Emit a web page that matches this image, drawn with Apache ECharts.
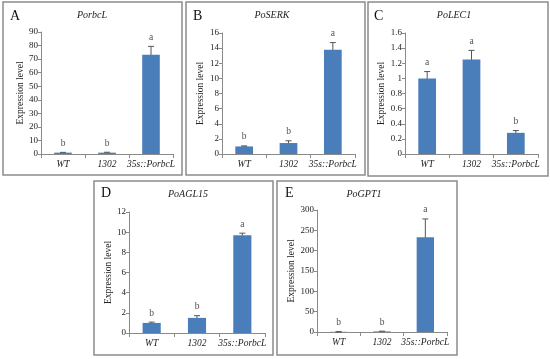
<!DOCTYPE html>
<html><head><meta charset="utf-8">
<script src="https://cdn.jsdelivr.net/npm/echarts@6/dist/echarts.min.js"></script>
<style>html,body{margin:0;padding:0;background:#fff}#c{width:550px;height:359px}</style>
</head><body><div id="c"></div>
<script>
const categories = ['WT', '1302', '35s::PorbcL'];

const genes = ['PorbcL', 'PoSERK', 'PoLEC1', 'PoAGL15', 'PoGPT1'];
const panelLetters = ['A', 'B', 'C', 'D', 'E'];

const meansA = [1.0, 1.0, 73.2];
const errA = [0.2, 0.3, 6.2];
const lettersA = ['b', 'b', 'a'];

const meansB = [1.0, 1.45, 13.8];
const errB = [0.07, 0.3, 0.93];
const lettersB = ['b', 'b', 'a'];

const meansC = [1.0, 1.25, 0.28];
const errC = [0.09, 0.12, 0.03];
const lettersC = ['a', 'a', 'b'];

const meansD = [1.0, 1.5, 9.7];
const errD = [0.08, 0.22, 0.2];
const lettersD = ['b', 'b', 'a'];

const meansE = [0.5, 1.5, 233];
const errE = [0.3, 0.5, 45];
const lettersE = ['b', 'b', 'a'];

const yMax = [90, 16, 1.6, 12, 300];
const yInterval = [10, 2, 0.2, 2, 50];

const means = [meansA, meansB, meansC, meansD, meansE];
const errs = [errA, errB, errC, errD, errE];
const letters = [lettersA, lettersB, lettersC, lettersD, lettersE];

// layout (pixels)
const grids = [
  {left: 41, top: 32, width: 132, height: 122},
  {left: 222, top: 33, width: 133, height: 121},
  {left: 405, top: 33, width: 133, height: 121},
  {left: 129, top: 212, width: 136, height: 121},
  {left: 317, top: 210, width: 130, height: 122}
];
const boxes = [
  [3, 2, 179, 173], [186, 2, 179, 173], [368, 2, 180, 174],
  [94, 181, 179, 174], [277, 181, 180, 174]
];
const titlePos = [[92, 15], [272, 15], [454, 15], [188, 194], [364, 194]];
const letterPos = [[10, 16], [193, 16], [374, 16], [101, 193], [285, 193]];
const nameGaps = [16, 17, 16, 15, 19];

const FONT = '"Liberation Serif", "DejaVu Serif", serif';
const BAR = '#4a7ebb';
const AXIS = '#8a8a8a';

const xAxis = [], yAxis = [], series = [], graphic = [];
grids.forEach((g, i) => {
  xAxis.push({
    type: 'category', gridIndex: i, data: categories, boundaryGap: true,
    axisLine: {lineStyle: {color: AXIS, width: 1}},
    axisTick: {show: true, length: 4, interval: 0, lineStyle: {color: AXIS}},
    axisLabel: {fontFamily: FONT, fontSize: 9.5, fontStyle: 'italic', color: '#222', margin: 5, interval: 0}
  });
  yAxis.push({
    type: 'value', gridIndex: i, min: 0, max: yMax[i], interval: yInterval[i],
    name: 'Expression level', nameLocation: 'middle', nameGap: nameGaps[i],
    nameTextStyle: {fontFamily: FONT, fontSize: 9.5, color: '#222'},
    axisLine: {show: true, lineStyle: {color: AXIS, width: 1}},
    axisTick: {show: true, length: 3, lineStyle: {color: AXIS}},
    splitLine: {show: false},
    axisLabel: {fontFamily: FONT, fontSize: 9, color: '#222', margin: 3}
  });
  series.push({
    type: 'bar', xAxisIndex: i, yAxisIndex: i, data: means[i], barWidth: '40%',
    itemStyle: {color: BAR}, silent: true, animation: false
  });
  series.push({
    type: 'custom', xAxisIndex: i, yAxisIndex: i, animation: false, silent: true,
    data: means[i].map((m, k) => [k, m - errs[i][k], m + errs[i][k]]),
    renderItem: function (params, api) {
      const lo = api.coord([api.value(0), api.value(1)]);
      const hi = api.coord([api.value(0), api.value(2)]);
      const w = 3;
      const st = {stroke: '#555', lineWidth: 1};
      return {type: 'group', children: [
        {type: 'line', shape: {x1: hi[0], y1: hi[1], x2: lo[0], y2: lo[1]}, style: st},
        {type: 'line', shape: {x1: hi[0] - w, y1: hi[1], x2: hi[0] + w, y2: hi[1]}, style: st},
        {type: 'line', shape: {x1: lo[0] - w, y1: lo[1], x2: lo[0] + w, y2: lo[1]}, style: st}
      ]};
    }
  });
  series.push({
    type: 'scatter', xAxisIndex: i, yAxisIndex: i, symbolSize: 0, animation: false, silent: true,
    data: means[i].map((m, k) => [k, m + errs[i][k]]),
    label: {show: true, position: 'top', distance: 4, fontFamily: FONT, fontSize: 9.5, color: '#222',
      formatter: (p) => letters[i][p.dataIndex]}
  });
  const b = boxes[i];
  graphic.push({type: 'rect', shape: {x: b[0], y: b[1], width: b[2], height: b[3]},
    style: {fill: 'none', stroke: '#8c8c8c', lineWidth: 1.5}, silent: true});
  graphic.push({type: 'text', x: titlePos[i][0], y: titlePos[i][1],
    style: {text: genes[i], fontFamily: FONT, fontSize: 10, fontStyle: 'italic', fill: '#222',
      textAlign: 'center', textVerticalAlign: 'middle'}});
  graphic.push({type: 'text', x: letterPos[i][0], y: letterPos[i][1],
    style: {text: panelLetters[i], fontFamily: FONT, fontSize: 14, fill: '#111',
      textAlign: 'left', textVerticalAlign: 'middle'}});
});

const chart = echarts.init(document.getElementById('c'), null, {renderer: 'canvas'});
chart.setOption({
  animation: false,
  grid: grids.map(g => Object.assign({containLabel: false}, g)),
  xAxis, yAxis, series, graphic
});
</script></body></html>
